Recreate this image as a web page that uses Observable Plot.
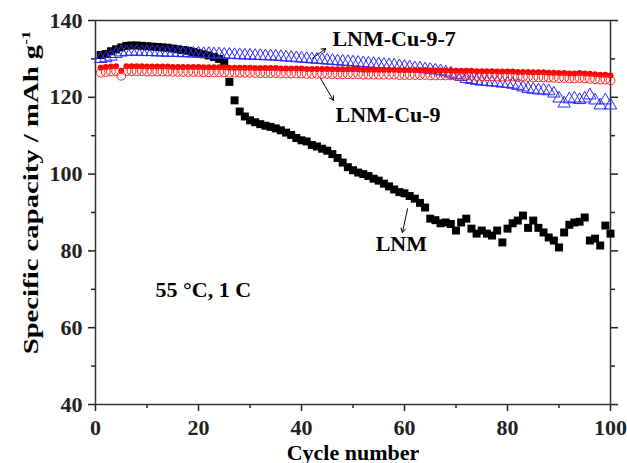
<!DOCTYPE html>
<html><head><meta charset="utf-8">
<script src="https://cdn.jsdelivr.net/npm/d3@7"></script>
<script src="https://cdn.jsdelivr.net/npm/@observablehq/plot@0.6"></script>
<style>body{margin:0;background:#fff}</style>
</head><body><div id="chart"></div>
<script>
// ---- data ----
const cycles = Array.from({length: 100}, (_, i) => i + 1);

const lnm = [131.0,131.3,132.0,132.5,133.0,133.4,133.5,133.5,133.4,133.3,
  133.2,133.1,133.0,132.9,132.7,132.5,132.3,132.1,131.8,131.5,
  131.2,130.9,130.5,130.0,129.3,124.0,119.2,116.3,115.0,114.0,
  113.5,113.0,112.6,112.3,111.9,111.4,110.8,110.2,109.4,108.8,
  108.5,107.6,107.2,106.6,106.1,105.2,104.2,103.0,101.8,101.0,
  100.4,100.0,99.5,98.8,98.3,97.5,96.8,96.0,95.3,95.0,
  94.3,93.6,92.5,91.3,88.4,88.0,87.2,87.4,87.0,85.3,
  87.4,88.4,85.8,84.5,85.3,84.5,84.0,85.3,82.2,85.8,
  87.2,87.9,89.2,86.0,87.9,86.0,84.8,83.5,82.7,80.9,
  84.8,86.8,87.4,87.6,88.7,82.7,83.2,81.4,86.6,84.5];

const cu97 = [130.0,130.2,130.6,131.3,131.7,131.8,131.9,131.9,131.8,131.8,
  131.8,131.7,131.7,131.6,131.6,131.6,131.5,131.5,131.4,131.4,
  131.3,131.3,131.2,131.2,131.1,131.1,131.0,131.0,130.9,130.9,
  130.8,130.8,130.7,130.7,130.6,130.5,130.4,130.3,130.2,130.1,
  130.0,129.9,129.8,129.7,129.6,129.5,129.4,129.3,129.2,129.1,
  129.0,128.9,128.8,128.7,128.6,128.5,128.4,128.3,128.1,128.0,
  127.8,127.6,127.5,127.3,127.2,127.0,126.8,126.5,126.2,125.8,
  125.3,124.8,124.5,124.3,124.1,124.0,123.9,123.8,123.6,123.5,
  123.3,123.0,122.6,122.2,122.0,121.8,121.8,121.6,121.0,119.7,
  118.4,119.5,119.7,119.3,119.7,120.5,119.2,117.9,119.2,117.9];

const cu9 = [126.4,126.6,126.7,126.8,125.6,126.8,126.8,126.8,126.8,126.7,
  126.7,126.7,126.7,126.7,126.6,126.6,126.6,126.6,126.6,126.6,
  126.5,126.5,126.5,126.5,126.5,126.4,126.4,126.4,126.4,126.4,
  126.3,126.3,126.3,126.3,126.3,126.2,126.2,126.2,126.2,126.2,
  126.1,126.1,126.1,126.1,126.1,126.0,126.0,126.0,126.0,126.0,
  126.0,125.9,125.9,125.9,125.9,125.9,125.9,125.9,125.8,125.8,
  125.8,125.8,125.8,125.8,125.7,125.7,125.7,125.7,125.7,125.6,
  125.6,125.6,125.6,125.5,125.5,125.5,125.5,125.4,125.4,125.4,
  125.4,125.3,125.3,125.3,125.2,125.2,125.2,125.1,125.1,125.0,
  125.0,124.9,124.9,125.0,124.9,124.8,124.7,124.6,124.6,124.4];

const xMajor = [0, 20, 40, 60, 80, 100];
const xMinor = [10, 30, 50, 70, 90];
const yMajor = [40, 60, 80, 100, 120, 140];
const yMinor = [50, 70, 90, 110, 130];

const seriesNames = ["LNM", "LNM-Cu-9-7", "LNM-Cu-9"];
const xTitle = "Cycle number";
const yTitle = "Specific capacity / mAh g-1";
const condition = "55 °C, 1 C";

// annotation anchors in data units (cycle, capacity)
const annotations = [
  {text: seriesNames[1], x: 46.0, y: 135.3, x1: 42.1, y1: 130.1, x2: 44.7, y2: 132.7},
  {text: seriesNames[2], x: 46.6, y: 115.5, x1: 43.7, y1: 124.9, x2: 46.2, y2: 119.2},
  {text: seriesNames[0], x: 54.4, y: 81.9, x1: 60.6, y1: 91.0, x2: 59.6, y2: 84.8}
];

const tbl = (vals) => cycles.map((c, i) => ({c, v: vals[i]}));
const dLNM = tbl(lnm), dCu97 = tbl(cu97), dCu9 = tbl(cu9);

const ink = "#222";
const chart = Plot.plot({
  width: 627, height: 463,
  marginLeft: 95, marginRight: 17, marginTop: 20, marginBottom: 59,
  x: {domain: [0, 100]},
  y: {domain: [40, 140]},
  style: {fontFamily: "'Liberation Serif', 'Times New Roman', serif", fontWeight: "bold", fontSize: "22px", background: "#fff", color: ink},
  marks: [
    Plot.axisX({ticks: xMajor, tickSize: 7, tickPadding: 8, strokeWidth: 1.5, label: null, tickFormat: d => d}),
    Plot.axisX({ticks: xMinor, tickSize: 4, strokeWidth: 1.5, label: null, tickFormat: () => ""}),
    Plot.axisY({ticks: yMajor, tickSize: 7, tickPadding: 6, strokeWidth: 1.5, label: null, tickFormat: d => d}),
    Plot.axisY({ticks: yMinor, tickSize: 4, strokeWidth: 1.5, label: null, tickFormat: () => ""}),
    Plot.axisY({anchor: "right", ticks: yMajor, tickSize: 7, strokeWidth: 1.5, label: null, tickFormat: () => ""}),
    Plot.axisY({anchor: "right", ticks: yMinor, tickSize: 4, strokeWidth: 1.5, label: null, tickFormat: () => ""}),
    Plot.frame({stroke: "#333", strokeWidth: 1.5}),
    // series
    Plot.dot(dLNM, {x: "c", y: "v", symbol: "square", r: 4.5, fill: "#000", stroke: "none"}),
    Plot.dot(dCu97, {x: "c", y: "v", symbol: "triangle", r: 4.6, fill: "none", stroke: "#2a2aff", strokeWidth: 1}),
    Plot.dot(dCu9, {x: "c", y: "v", r: 3, fill: "#ff0000", stroke: "none", dy: -5}),
    Plot.dot(dCu9, {x: "c", y: "v", r: 4.4, fill: "none", stroke: "#ff2020", strokeWidth: 1}),
    // annotations
    Plot.arrow(annotations, {x1: "x1", y1: "y1", x2: "x2", y2: "y2", stroke: "#000", strokeWidth: 1, headLength: 7}),
    Plot.text(annotations, {x: "x", y: "y", text: "text", textAnchor: "start", fill: "#000"}),
    Plot.text([condition], {x: 11.65, y: 69.7, text: d => d, textAnchor: "start", fill: "#000"}),
    // axis titles
    Plot.text([xTitle], {frameAnchor: "bottom", text: d => d, dy: 55, fill: "#000"}),
    Plot.text([yTitle], {frameAnchor: "left", textAnchor: "middle", text: d => d, rotate: -90, dx: -65, dy: -20, fill: "#000"})
  ]
});

document.getElementById("chart").appendChild(chart);

d3.select(chart).selectAll("text").each(function () {
  if (this.textContent === yTitle) {
    this.textContent = "Specific capacity / mAh g";
    d3.select(this).append("tspan").attr("dy", "-0.55em").attr("font-size", "13px").text("-1");
    const len = this.getComputedTextLength();
    const k = 324 / len;
    const t = this.getAttribute("transform") || "";
    this.setAttribute("transform", t + " scale(" + k + ",1)");
  }
});
</script>
</body></html>
